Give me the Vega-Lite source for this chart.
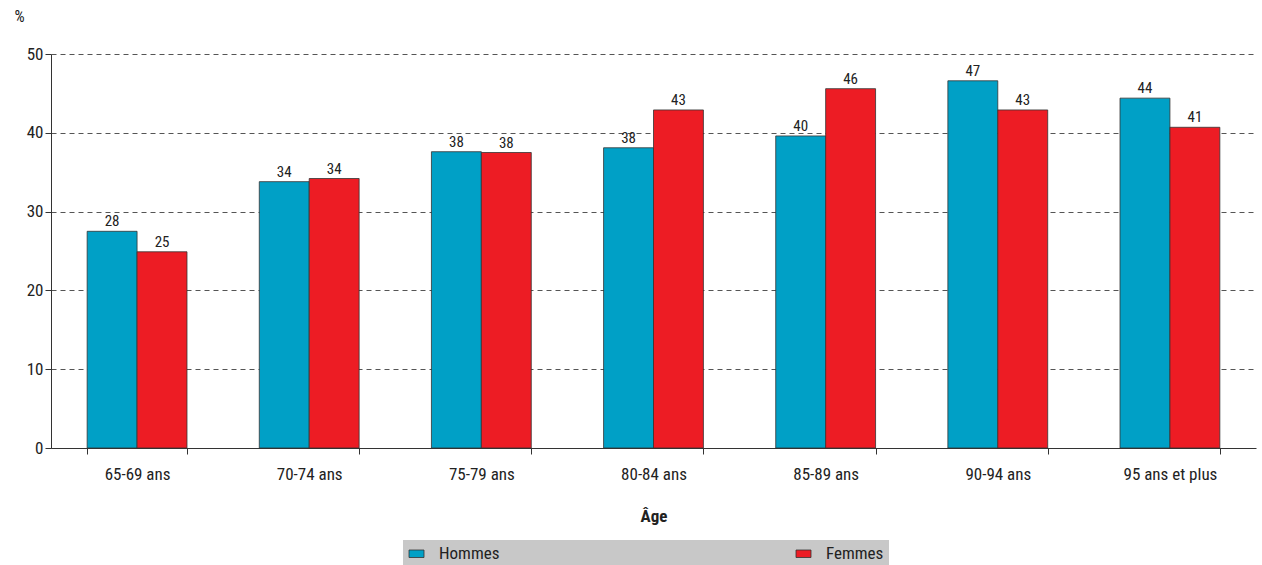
{
  "$schema": "https://vega.github.io/schema/vega-lite/v6.json",
  "width": 1205,
  "height": 394,
  "padding": {"left": 13, "top": 8, "right": 4, "bottom": 0},
  "background": "white",
  "config": {
    "font": "Liberation Sans Narrow, Roboto Condensed, Liberation Sans",
    "view": {"stroke": null}
  },
  "data": {
    "values": [
      {"age": "65-69 ans", "sexe": "Hommes", "v": 27.5},
      {"age": "65-69 ans", "sexe": "Femmes", "v": 24.9},
      {"age": "70-74 ans", "sexe": "Hommes", "v": 33.8},
      {"age": "70-74 ans", "sexe": "Femmes", "v": 34.2},
      {"age": "75-79 ans", "sexe": "Hommes", "v": 37.6},
      {"age": "75-79 ans", "sexe": "Femmes", "v": 37.5},
      {"age": "80-84 ans", "sexe": "Hommes", "v": 38.1},
      {"age": "80-84 ans", "sexe": "Femmes", "v": 42.9},
      {"age": "85-89 ans", "sexe": "Hommes", "v": 39.6},
      {"age": "85-89 ans", "sexe": "Femmes", "v": 45.6},
      {"age": "90-94 ans", "sexe": "Hommes", "v": 46.6},
      {"age": "90-94 ans", "sexe": "Femmes", "v": 42.9},
      {"age": "95 ans et plus", "sexe": "Hommes", "v": 44.4},
      {"age": "95 ans et plus", "sexe": "Femmes", "v": 40.7}
    ]
  },
  "encoding": {
    "x": {
      "field": "age", "type": "nominal", "sort": null, "title": "Âge",
      "scale": {"paddingInner": 0.42, "paddingOuter": 0.21},
      "axis": {
        "labelAngle": 0, "labelFontSize": 17, "labelColor": "#222", "labelPadding": 12,
        "tickBand": "extent", "tickColor": "#333", "tickSize": 6,
        "domainColor": "#333", "titleFontSize": 17, "titlePadding": 26, "titleColor": "#222"
      }
    },
    "xOffset": {"field": "sexe", "sort": ["Hommes", "Femmes"], "scale": {"paddingInner": 0}},
    "y": {
      "field": "v", "type": "quantitative", "title": "%",
      "scale": {"domain": [0, 50]},
      "axis": {
        "tickCount": 5, "grid": true, "gridDash": [5, 4], "gridColor": "#555",
        "domainColor": "#333", "tickColor": "#333", "tickSize": 6,
        "labelFontSize": 17, "labelColor": "#222",
        "titleAngle": 0, "titleFontSize": 16, "titleFontWeight": "normal",
        "titleX": -32, "titleY": -30, "titleAlign": "center", "titleColor": "#222"
      }
    }
  },
  "layer": [
    {
      "mark": {"type": "bar", "stroke": "#333", "strokeWidth": 0.8},
      "encoding": {
        "color": {
          "field": "sexe", "type": "nominal", "title": null,
          "scale": {"domain": ["Hommes", "Femmes"], "range": ["#00a0c6", "#ed1c24"]},
          "legend": {
            "orient": "none", "legendX": 352, "legendY": 486,
            "direction": "horizontal", "fillColor": "#c8c8c8",
            "padding": 5, "columnPadding": 294,
            "symbolType": "M-1,-0.5H1V0.5H-1Z", "symbolSize": 225,
            "symbolStrokeColor": "#333", "symbolStrokeWidth": 0.8,
            "labelFontSize": 17, "labelColor": "#222", "labelOffset": 14
          }
        }
      }
    },
    {
      "mark": {"type": "text", "dy": -10, "fontSize": 15, "color": "#222"},
      "encoding": {"text": {"field": "v", "type": "quantitative", "format": ".0f"}}
    }
  ]
}
